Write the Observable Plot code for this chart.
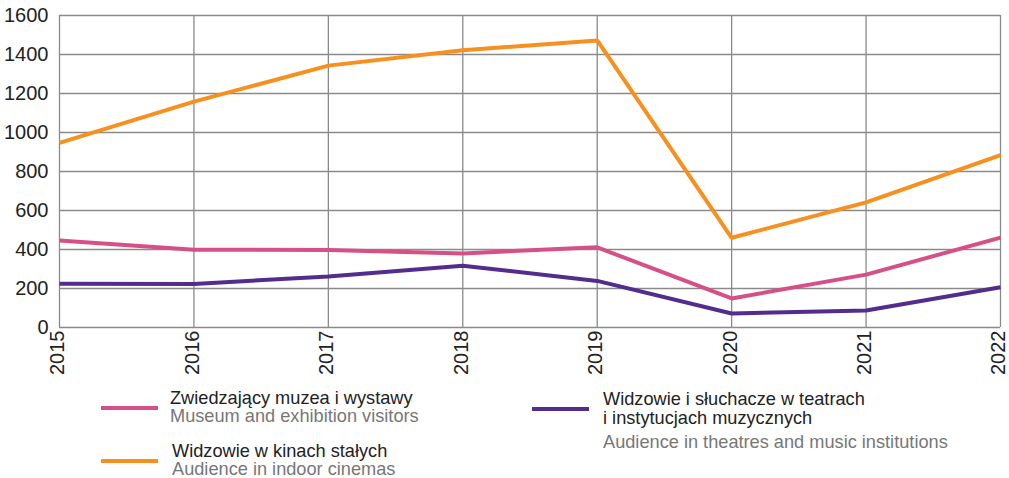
<!DOCTYPE html>
<html><head><meta charset="utf-8">
<script src="https://cdn.jsdelivr.net/npm/d3@7"></script>
<script src="https://cdn.jsdelivr.net/npm/@observablehq/plot@0.6"></script>
<style>
body{margin:0;background:#fff;font-family:"Liberation Sans",Arial,sans-serif;}
#wrap{position:relative;width:1009px;height:478px;overflow:hidden;}
#wrap svg{overflow:visible;}
.ln{position:absolute;font-size:18.2px;line-height:18.2px;color:#222;white-space:nowrap;}
.ln.en{color:#777;}
.sw{position:absolute;height:4px;width:57px;}
</style></head><body>
<div id="wrap"></div>
<script>
const years = [2015, 2016, 2017, 2018, 2019, 2020, 2021, 2022];
const museums = [446, 399, 398, 380, 411, 149, 271, 461];
const cinemas = [947, 1158, 1343, 1422, 1472, 460, 642, 884];
const theatres = [224, 223, 262, 317, 239, 72, 87, 206];
const yTicks = [0, 200, 400, 600, 800, 1000, 1200, 1400, 1600];
const seriesNames = ["museums", "cinemas", "theatres"];
const seriesColors = ["#d64f86", "#f7901e", "#532d8e"];
const legendPl = [["Zwiedzający muzea i wystawy"], ["Widzowie w kinach stałych"], ["Widzowie i słuchacze w teatrach", "i instytucjach muzycznych"]];
const legendEn = ["Museum and exhibition visitors", "Audience in indoor cinemas", "Audience in theatres and music institutions"];

const valuesBy = {museums, cinemas, theatres};
const data = seriesNames.flatMap(s => years.map((y, i) => ({series: s, year: y, value: valuesBy[s][i]})));

const plot = Plot.plot({
  width: 1009, height: 380,
  marginLeft: 59, marginRight: 9, marginTop: 15, marginBottom: 53,
  style: {fontFamily: "Liberation Sans, Arial, sans-serif", fontSize: "20px", color: "#222", overflow: "visible"},
  x: {domain: [2015, 2022], ticks: years, tickFormat: d => String(d), label: null},
  y: {domain: [0, 1600], ticks: yTicks, label: null},
  color: {domain: seriesNames, range: seriesColors},
  marks: [
    Plot.gridY(yTicks, {stroke: "#8a8a8a", strokeOpacity: 1, strokeWidth: 1.3}),
    Plot.gridX(years, {stroke: "#8a8a8a", strokeOpacity: 1, strokeWidth: 1.3}),
    Plot.axisY(yTicks, {tickSize: 0, tickPadding: 11, fontSize: 20, fill: "#222", tickFormat: d => String(d)}),
    Plot.axisX(years, {tickSize: 0, tickPadding: 3, tickRotate: -90, dx: -1.5, fontSize: 20, fill: "#222", tickFormat: d => String(d)}),
    Plot.line(data, {x: "year", y: "value", z: "series", stroke: "series", strokeWidth: 4, strokeLinejoin: "miter", strokeLinecap: "butt"})
  ]
});
const wrap = document.getElementById("wrap");
wrap.appendChild(plot);

const layout = [
  {sx: 100.5, sy: 405.7, tx: 170, tops: [388.9, 407.2]},
  {sx: 100.5, sy: 459.3, tx: 172, tops: [441.5, 459.8]},
  {sx: 531.5, sy: 407, tx: 603, tops: [389.6, 408.9, 432.9]}
];
seriesNames.forEach((s, i) => {
  const sw = document.createElement("div");
  sw.className = "sw";
  sw.style.left = layout[i].sx + "px"; sw.style.top = layout[i].sy + "px";
  sw.style.background = seriesColors[i];
  wrap.appendChild(sw);
  const lines = legendPl[i].map(t => ({t, en: false})).concat([{t: legendEn[i], en: true}]);
  lines.forEach((l, j) => {
    const d = document.createElement("div");
    d.className = "ln" + (l.en ? " en" : "");
    d.style.left = layout[i].tx + "px"; d.style.top = layout[i].tops[j] + "px";
    d.textContent = l.t;
    wrap.appendChild(d);
  });
});
</script>
</body></html>
